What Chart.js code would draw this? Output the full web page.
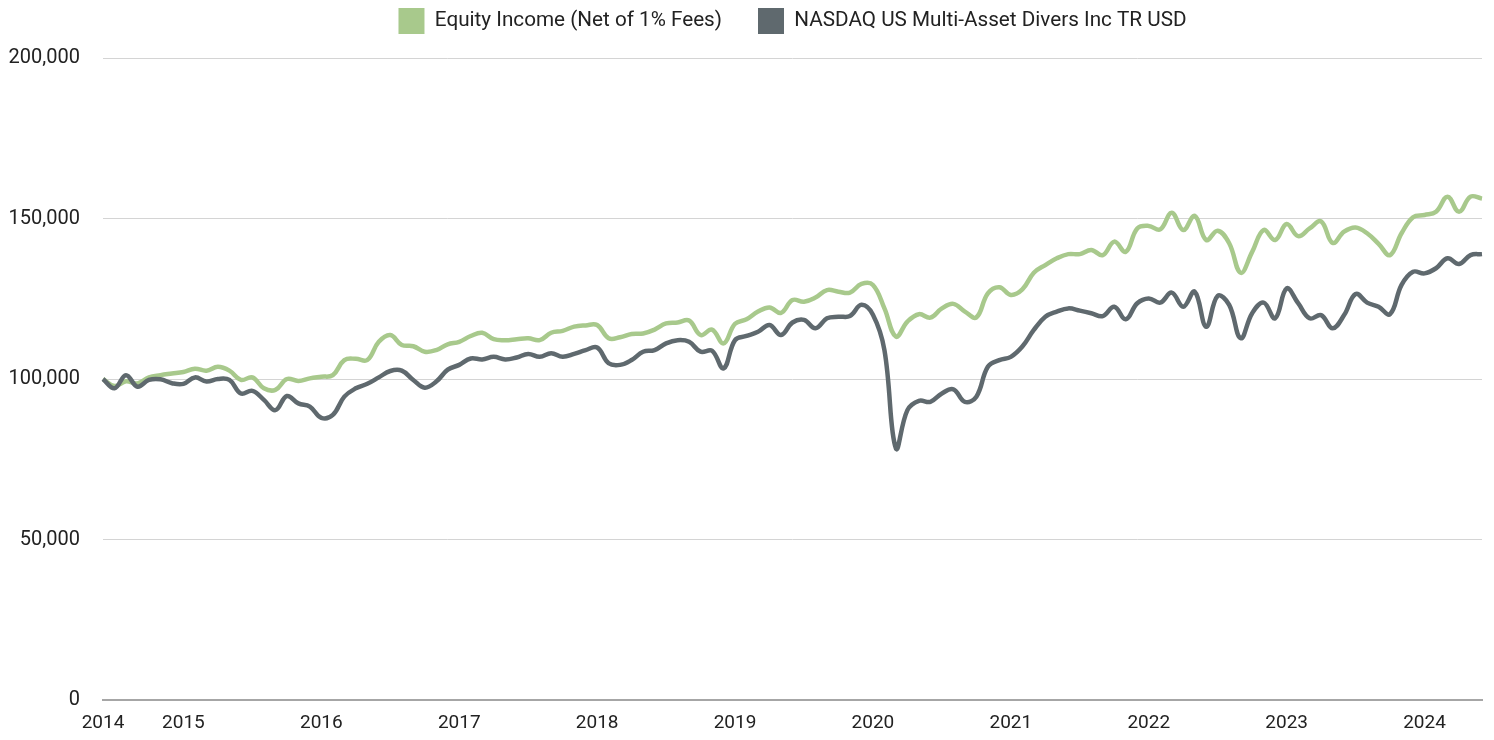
<!DOCTYPE html>
<html>
<head>
<meta charset="utf-8">
<script src="https://cdn.jsdelivr.net/npm/chart.js@4.4.1/dist/chart.umd.min.js"></script>
<style>
  html, body { margin: 0; padding: 0; background: #ffffff; }
  #wrap { width: 1494px; height: 740px; position: relative; }
</style>
</head>
<body>
<div id="wrap"><canvas id="c"></canvas></div>
<script>
const categories = [
  "2014-06","2014-07","2014-08","2014-09","2014-10","2014-11","2014-12",
  "2015-01","2015-02","2015-03","2015-04","2015-05","2015-06","2015-07","2015-08","2015-09","2015-10","2015-11","2015-12",
  "2016-01","2016-02","2016-03","2016-04","2016-05","2016-06","2016-07","2016-08","2016-09","2016-10","2016-11","2016-12",
  "2017-01","2017-02","2017-03","2017-04","2017-05","2017-06","2017-07","2017-08","2017-09","2017-10","2017-11","2017-12",
  "2018-01","2018-02","2018-03","2018-04","2018-05","2018-06","2018-07","2018-08","2018-09","2018-10","2018-11","2018-12",
  "2019-01","2019-02","2019-03","2019-04","2019-05","2019-06","2019-07","2019-08","2019-09","2019-10","2019-11","2019-12",
  "2020-01","2020-02","2020-03","2020-04","2020-05","2020-06","2020-07","2020-08","2020-09","2020-10","2020-11","2020-12",
  "2021-01","2021-02","2021-03","2021-04","2021-05","2021-06","2021-07","2021-08","2021-09","2021-10","2021-11","2021-12",
  "2022-01","2022-02","2022-03","2022-04","2022-05","2022-06","2022-07","2022-08","2022-09","2022-10","2022-11","2022-12",
  "2023-01","2023-02","2023-03","2023-04","2023-05","2023-06","2023-07","2023-08","2023-09","2023-10","2023-11","2023-12",
  "2024-01","2024-02","2024-03","2024-04","2024-05","2024-06"
];

const equityIncome = [
  100000, 97800, 99300, 98600, 100500, 101200, 101700,
  102200, 103200, 102600, 103800, 102600, 99700, 100500, 97100, 96600, 100000, 99400, 100200,
  100700, 101200, 105900, 106300, 105900, 111600, 113700, 110600, 110200, 108500, 109000, 110800,
  111600, 113400, 114400, 112400, 112100, 112400, 112700, 112100, 114400, 115000, 116300, 116700,
  116800, 112700, 113000, 114000, 114200, 115400, 117300, 117600, 118200, 113700, 115400, 111100,
  117200, 118600, 121000, 122300, 120600, 124600, 124100, 125400, 127700, 127200, 126900, 129600,
  129300, 122000, 113200, 117900, 120200, 119100, 122000, 123400, 121000, 119200, 126700, 128600,
  126200, 127900, 133100, 135500, 137600, 138900, 138900, 140200, 138600, 142800, 139600, 146900,
  147700, 146600, 151800, 146400, 150800, 143300, 146200, 142300, 133100, 139600, 146400, 143300,
  148300, 144500, 146900, 149100, 142400, 145900, 147200, 145400, 142100, 138600, 145400, 150400,
  151100, 152100, 156800, 152100, 156800, 156200
];

const nasdaqMultiAsset = [
  100000, 97100, 101200, 97600, 99700, 99900, 98700,
  98500, 100500, 99200, 100000, 99700, 95500, 96300, 93500, 90300, 94700, 92400, 91400,
  87900, 88800, 94500, 97100, 98500, 100500, 102500, 102600, 99700, 97300, 99200, 102900,
  104400, 106400, 106100, 106900, 106100, 106700, 107800, 106900, 108000, 106900, 107800, 109000,
  109800, 104900, 104400, 105900, 108500, 109000, 111100, 112100, 111600, 108500, 108800, 103300,
  112100, 113400, 114700, 116800, 113700, 117600, 118400, 115800, 118900, 119400, 119600, 123100,
  120000, 109000, 78400, 90300, 93200, 92900, 95500, 96800, 92900, 94500, 103800, 105900,
  106900, 110100, 115300, 119400, 121000, 122000, 121300, 120500, 119600, 122500, 118600, 123600,
  125100, 123800, 126900, 122500, 127200, 116300, 125900, 123100, 112700, 120500, 123800, 118900,
  128200, 123600, 118900, 119900, 115800, 119900, 126500, 123800, 122500, 120200, 129300, 133400,
  132900, 134500, 137600, 135800, 138600, 138900
];

const seriesNames = ["Equity Income (Net of 1% Fees)", "NASDAQ US Multi-Asset Divers Inc TR USD"];
const yTickValues = [0, 50000, 100000, 150000, 200000];

const FONT = "Roboto, 'Liberation Sans', 'DejaVu Sans', sans-serif";
const GREEN = "#a8c98c";
const DARK = "#5f696e";

const legendHeightPlugin = {
  id: 'legendHeight',
  beforeInit(chart) {
    const origFit = chart.legend.fit;
    chart.legend.fit = function () {
      origFit.bind(chart.legend)();
      this.height = 86;
    };
  }
};

new Chart(document.getElementById('c'), {
  type: 'line',
  data: {
    labels: categories,
    datasets: [
      {
        label: seriesNames[0],
        data: equityIncome,
        borderColor: GREEN,
        backgroundColor: GREEN,
        borderWidth: 4.5,
        pointRadius: 0,
        tension: 0.4,
        order: 1
      },
      {
        label: seriesNames[1],
        data: nasdaqMultiAsset,
        borderColor: DARK,
        backgroundColor: DARK,
        borderWidth: 4.5,
        pointRadius: 0,
        tension: 0.4,
        order: 0
      }
    ]
  },
  options: {
    responsive: true,
    maintainAspectRatio: false,
    animation: false,
    layout: { padding: { top: -28, left: 8, right: 12, bottom: 4 } },
    plugins: {
      legend: {
        position: 'top',
        fullSize: false,
        labels: {
          boxWidth: 26,
          boxHeight: 26,
          padding: 36,
          color: '#222222',
          font: { family: FONT, size: 20.7 },
          generateLabels: (chart) =>
            Chart.defaults.plugins.legend.labels.generateLabels(chart).map(l => Object.assign({}, l, { lineWidth: 0 })),
          sort: (a, b) => a.datasetIndex - b.datasetIndex
        }
      },
      tooltip: { enabled: false }
    },
    scales: {
      x: {
        grid: { display: false, drawTicks: false },
        border: { display: true, color: '#a6a6a6', width: 2 },
        afterFit: (scale) => { scale.paddingLeft = 0; scale.paddingRight = 0; scale.height = 36; },
        ticks: {
          autoSkip: false,
          maxRotation: 0,
          minRotation: 0,
          padding: 12,
          color: '#222222',
          font: { family: FONT, size: 19 },
          callback: function (value, index) {
            const c = categories[index];
            if (index === 0 || c.endsWith('-01')) return c.slice(0, 4);
            return '';
          }
        }
      },
      y: {
        min: yTickValues[0],
        max: yTickValues[yTickValues.length - 1],
        afterBuildTicks: (axis) => { axis.ticks = yTickValues.map(v => ({ value: v })); },
        afterFit: (scale) => { scale.width = 95; },
        grid: { color: '#d4d4d4', lineWidth: 1, drawTicks: false },
        border: { display: false },
        ticks: {
          padding: 23,
          color: '#222222',
          font: { family: FONT, size: 20 },
          callback: (v) => v.toLocaleString('en-US')
        }
      }
    }
  },
  plugins: [legendHeightPlugin]
});
</script>
</body>
</html>
